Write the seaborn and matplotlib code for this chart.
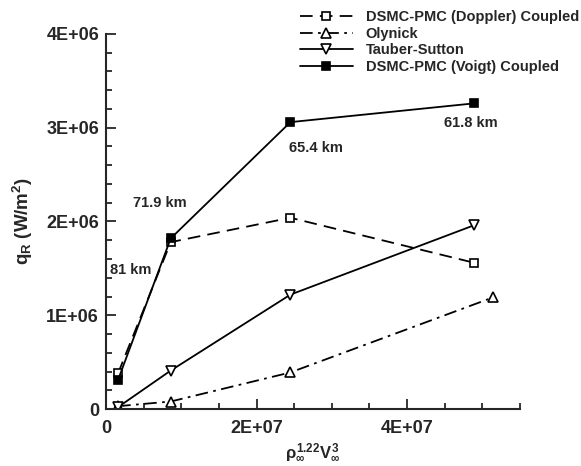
import matplotlib
matplotlib.use("Agg")
import matplotlib.pyplot as plt
from matplotlib.ticker import MultipleLocator
import seaborn as sns
import pandas as pd

# ---- data ----
x_common = [1.6e6, 8.6e6, 24.5e6, 48.9e6]
x_olynick = [1.6e6, 8.6e6, 24.5e6, 51.4e6]
q_doppler = [0.38e6, 1.78e6, 2.04e6, 1.56e6]
q_olynick = [0.03e6, 0.08e6, 0.39e6, 1.19e6]
q_tauber = [0.02e6, 0.41e6, 1.22e6, 1.96e6]
q_voigt = [0.31e6, 1.82e6, 3.06e6, 3.26e6]
series_names = ["DSMC-PMC (Doppler) Coupled", "Olynick", "Tauber-Sutton",
                "DSMC-PMC (Voigt) Coupled"]
alt_labels = ["81 km", "71.9 km", "65.4 km", "61.8 km"]
x_tick_labels = ["0", "2E+07", "4E+07"]
y_tick_labels = ["0", "1E+06", "2E+06", "3E+06", "4E+06"]

sns.set_theme(style="ticks")
plt.rcParams["font.family"] = ["Liberation Sans", "DejaVu Sans"]
plt.rcParams["font.weight"] = "bold"
plt.rcParams["mathtext.fontset"] = "custom"
plt.rcParams["mathtext.rm"] = "Liberation Sans:bold"
plt.rcParams["mathtext.it"] = "Liberation Sans:bold"
plt.rcParams["mathtext.bf"] = "Liberation Sans:bold"

fig = plt.figure(figsize=(5.81, 4.66), dpi=100)
ax = fig.add_axes([106 / 581, 1 - 409 / 466, (520 - 106) / 581, (409 - 34) / 466])

styles = [
    dict(x=x_common, y=q_doppler, marker="s", mfc="white", ms=5.8, ls=(0, (7, 4))),
    dict(x=x_olynick, y=q_olynick, marker="^", mfc="white", ms=6.8, ls=(0, (7, 3, 1.5, 3))),
    dict(x=x_common, y=q_tauber, marker="v", mfc="white", ms=6.8, ls="-"),
    dict(x=x_common, y=q_voigt, marker="s", mfc="black", ms=5.8, ls="-"),
]
for name, st in zip(series_names, styles):
    df = pd.DataFrame({"x": st["x"], "y": st["y"]})
    sns.lineplot(data=df, x="x", y="y", ax=ax, sort=False, color="black", lw=1.3,
                 marker=st["marker"], markersize=st["ms"], markerfacecolor=st["mfc"],
                 markeredgecolor="black", markeredgewidth=1.2, linestyle=st["ls"],
                 label=name, legend=False)

# altitude annotations, offset from the Voigt points
ann_offsets = [(1.7e6, 1.17e6), (-1.5e6, 0.38e6), (3.4e6, -0.28e6), (-0.5e6, -0.21e6)]
for xv, yv, lab, (dx, dy) in zip(x_common, q_voigt, alt_labels, ann_offsets):
    ax.text(xv + dx, yv + dy, lab, fontsize=10.5, fontweight="bold",
            ha="center", va="center")

ax.set_xlim(0, 5.5e7)
ax.set_ylim(0, 4e6)
ax.set_xticks([0, 2e7, 4e7])
ax.set_xticklabels(x_tick_labels)
ax.set_yticks([0, 1e6, 2e6, 3e6, 4e6])
ax.set_yticklabels(y_tick_labels)
ax.xaxis.set_minor_locator(MultipleLocator(5e6))
ax.yaxis.set_minor_locator(MultipleLocator(2e5))
ax.tick_params(which="both", direction="in", width=1.3, labelsize=13)
ax.tick_params(which="major", length=7)
ax.tick_params(which="minor", length=4)
ax.tick_params(axis="x", which="both", top=False, pad=8)
ax.tick_params(axis="y", which="both", right=False, pad=5)
for lab in ax.get_xticklabels() + ax.get_yticklabels():
    lab.set_fontweight("bold")
sns.despine(ax=ax)
for sp in ["left", "bottom"]:
    ax.spines[sp].set_linewidth(1.5)

ax.set_xlabel(r"$\rho_\infty^{1.22}V_\infty^3$", fontsize=12, labelpad=3)
ax.set_ylabel(r"q$_\mathrm{R}$ (W/m$^2$)", fontsize=13.5, fontweight="bold", labelpad=8)

handles, labels = ax.get_legend_handles_labels()
leg = fig.legend(handles, labels, loc="upper left", bbox_to_anchor=(300 / 581, 1 - 10 / 466),
                 frameon=False, fontsize=10.5, handlelength=3.6, handletextpad=0.9,
                 labelspacing=0.18, borderpad=0, borderaxespad=0)
for t in leg.get_texts():
    t.set_fontweight("bold")

fig.savefig("out.png", dpi=100)
